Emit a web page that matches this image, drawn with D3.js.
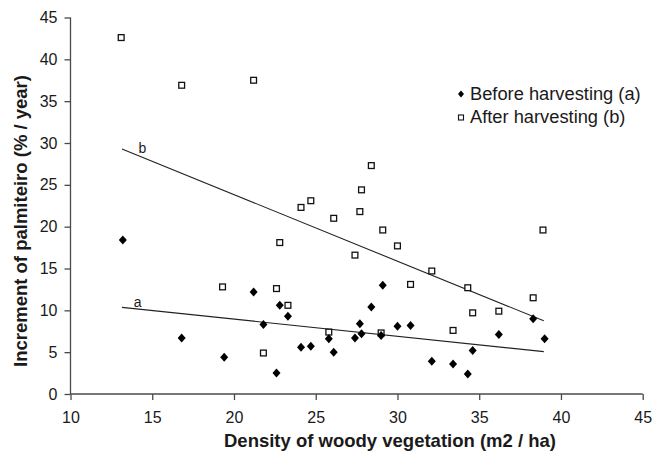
<!DOCTYPE html>
<html lang='en'>
<head>
  <meta charset='UTF-8'>
  <title>Palmiteiro increment</title>
  <style>
    body { margin: 0; background: #fff; }
    text { font-family: 'Liberation Sans', Arial, sans-serif; fill: #1a1a1a; }
  </style>
</head>
<body>
  <script src='https://cdn.jsdelivr.net/npm/d3@7/dist/d3.min.js'></script>
  <script>
// 数据：木本植被密度 (x) 与 棕榈增量 (y)
const beforeX = [13.2, 16.8, 19.4, 21.2, 22.8, 23.3, 21.8, 22.6, 24.1, 24.7, 25.8, 26.1, 27.4, 27.7,
                 27.8, 28.4, 29.1, 29.0, 30.0, 30.8, 32.1, 33.4, 34.3, 34.6, 36.2, 38.3, 39.0];
const beforeY = [18.4, 6.7, 4.4, 12.2, 10.6, 9.3, 8.3, 2.5, 5.6, 5.7, 6.6, 5.0, 6.7, 8.4,
                 7.2, 10.4, 13.0, 7.0, 8.1, 8.2, 3.9, 3.6, 2.4, 5.2, 7.1, 9.0, 6.6];

const afterX = [13.1, 16.8, 21.2, 24.1, 24.7, 28.4, 27.8, 27.7, 26.1, 29.1, 38.9, 22.8, 19.3, 22.6,
                23.3, 21.8, 25.8, 30.0, 27.4, 32.1, 30.8, 34.3, 38.3, 36.2, 34.6, 33.4, 29.0];
const afterY = [42.6, 36.9, 37.5, 22.3, 23.1, 27.3, 24.4, 21.8, 21.0, 19.6, 19.6, 18.1, 12.8, 12.6,
                10.6, 4.9, 7.4, 17.7, 16.6, 14.7, 13.1, 12.7, 11.5, 9.9, 9.7, 7.6, 7.3];

// 趋势线：[起点x, 终点x, 截距, 斜率]
const trendA = [13.15, 38.95, 13.05, -0.205];
const trendB = [13.15, 38.95, 39.75, -0.796];

const xTicks = [10, 15, 20, 25, 30, 35, 40, 45];
const yTicks = [0, 5, 10, 15, 20, 25, 30, 35, 40, 45];
const legendLabels = ['Before harvesting (a)', 'After harvesting (b)'];

// 画布大小
const width = 653;
const height = 452;

const svg = d3.select('body')
              .append('svg')
              .attr('width', width)
              .attr('height', height);

const x = d3.scaleLinear().domain([10, 45]).range([70.5, 642.7]);
const y = d3.scaleLinear().domain([0, 45]).range([394, 17.5]);

// 坐标轴
const xAxis = svg.append('g')
    .attr('transform', 'translate(0,' + y(0) + ')')
    .call(d3.axisBottom(x).tickValues(xTicks).tickSize(6).tickPadding(11.5));
const yAxis = svg.append('g')
    .attr('transform', 'translate(' + x(10) + ',0)')
    .call(d3.axisLeft(y).tickValues(yTicks).tickSize(6).tickPadding(7));

[xAxis, yAxis].forEach((a) => {
  a.selectAll('path, line').attr('stroke', '#4a4a4a').attr('stroke-width', 1.3);
  a.selectAll('text').style('font-size', '16px').style('font-family', "'Liberation Sans', Arial, sans-serif").attr('fill', '#1a1a1a');
});
xAxis.select('.domain').attr('d', 'M' + x(10) + ',0H' + x(45));
yAxis.select('.domain').attr('d', 'M0,' + y(0) + 'V' + y(45));

// 轴标题
svg.append('text')
    .attr('x', 390)
    .attr('y', 446.5)
    .attr('text-anchor', 'middle')
    .style('font-size', '18.5px')
    .style('font-weight', 'bold')
    .text('Density of woody vegetation (m2 / ha)');

svg.append('text')
    .attr('transform', 'translate(27,221) rotate(-90)')
    .attr('text-anchor', 'middle')
    .style('font-size', '18.5px')
    .style('font-weight', 'bold')
    .text('Increment of palmiteiro (% / year)');

// 趋势线
const line = d3.line().x((d) => x(d[0])).y((d) => y(d[1]));
[trendA, trendB].forEach((t) => {
  const pts = [[t[0], t[2] + t[3] * t[0]], [t[1], t[2] + t[3] * t[1]]];
  svg.append('path')
      .attr('d', line(pts))
      .attr('fill', 'none')
      .attr('stroke', '#222')
      .attr('stroke-width', 1.1);
});

svg.append('text').attr('x', x(14.1)).attr('y', y(10.45)).attr('text-anchor', 'middle')
    .style('font-size', '14px').attr('fill', '#333').text('a');
svg.append('text').attr('x', x(14.4)).attr('y', y(28.85)).attr('text-anchor', 'middle')
    .style('font-size', '14px').attr('fill', '#333').text('b');

// 散点
const afterData = afterX.map((v, i) => [v, afterY[i]]);
const beforeData = beforeX.map((v, i) => [v, beforeY[i]]);

svg.append('g').selectAll('rect')
    .data(afterData)
    .enter()
    .append('rect')
    .attr('x', (d) => x(d[0]) - 2.9)
    .attr('y', (d) => y(d[1]) - 2.9)
    .attr('width', 5.8)
    .attr('height', 5.8)
    .attr('fill', '#fff')
    .attr('stroke', '#111')
    .attr('stroke-width', 1.3);

const diamond = (cx, cy, rx, ry) =>
  'M' + cx + ',' + (cy - ry) + 'L' + (cx + rx) + ',' + cy + 'L' + cx + ',' + (cy + ry) + 'L' + (cx - rx) + ',' + cy + 'Z';

svg.append('g').selectAll('path')
    .data(beforeData)
    .enter()
    .append('path')
    .attr('d', (d) => diamond(x(d[0]), y(d[1]), 4, 4.5))
    .attr('fill', '#000');

// 图例
const legend = svg.append('g');
legend.append('path').attr('d', diamond(461, 94, 3, 3.5)).attr('fill', '#000');
legend.append('rect').attr('x', 458.5).attr('y', 115).attr('width', 5).attr('height', 5)
    .attr('fill', '#fff').attr('stroke', '#111').attr('stroke-width', 1.1);
legend.selectAll('text.lg')
    .data(legendLabels)
    .enter()
    .append('text')
    .attr('class', 'lg')
    .attr('x', 470)
    .attr('y', (d, i) => 99.5 + i * 23.5)
    .style('font-size', '18.3px')
    .text((d) => d);
  </script>
</body>
</html>
